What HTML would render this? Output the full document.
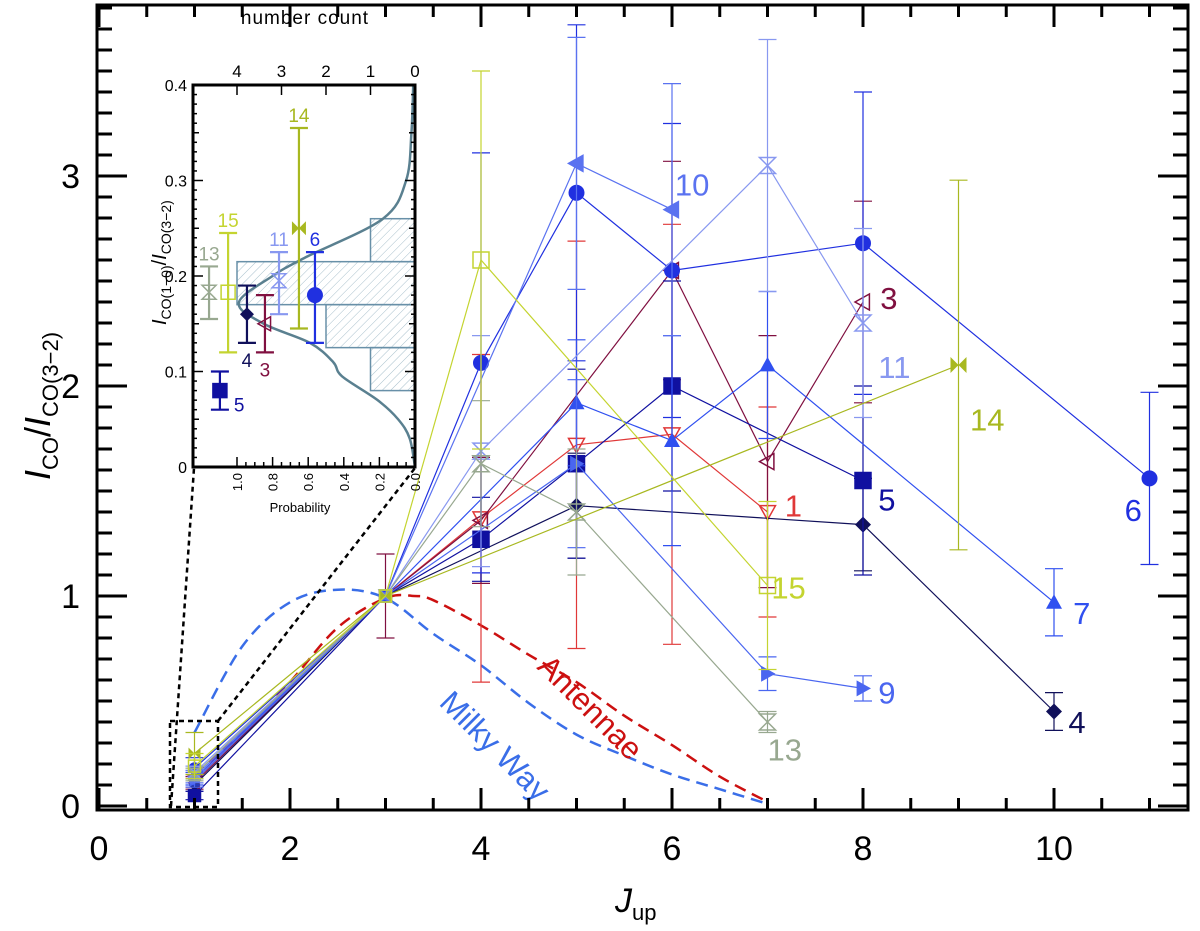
<!DOCTYPE html>
<html><head><meta charset="utf-8"><style>
html,body{margin:0;padding:0;background:#fff;}
svg text{font-family:"Liberation Sans",sans-serif;}
</style></head><body>
<svg id="chart" width="1200" height="926" viewBox="0 0 1200 926" xmlns="http://www.w3.org/2000/svg"></svg>
<script>
const jTicks=[0,2,4,6,8,10];
const yTicks=[0,1,2,3];
const seriesNames=["1","3","4","5","6","7","9","10","11","13","14","15"];
const seriesColors=["#e03838","#801040","#10105a","#1010a0","#2030e0","#3050f0","#4a66f0","#5a72f0","#8898f0","#98a890","#a8b820","#c4d430"];
const seriesMarkers=["tridown","trileft","diamond","square","circle","triup","triright","trileft","hourglass","hourglass","bowtie","osquare"];
const s1J=[1,3,4,5,6,7], s1V=[0.12,1,1.37,1.72,1.77,1.40], s1E=[0.03,0,0.78,0.97,1.0,0.5];
const s3J=[1,3,4,6,7,8], s3V=[0.11,1,1.36,2.55,1.64,2.40], s3E=[0.03,0.2,0.3,0.52,0.6,0.48];
const s4J=[1,3,5,8,10], s4V=[0.10,1,1.43,1.34,0.45], s4E=[0.03,0,0.25,0.22,0.09];
const s5J=[1,3,4,5,6,8], s5V=[0.05,1,1.27,1.63,2.00,1.55], s5E=[0.02,0,0.2,0.45,0.5,0.45];
const s6J=[1,3,4,5,6,8,11], s6V=[0.18,1,2.11,2.92,2.55,2.68,1.56], s6E=[0.05,0,1.0,0.8,0.7,0.72,0.41];
const s7J=[1,3,5,6,7,10], s7V=[0.13,1,1.92,1.74,2.10,0.97], s7E=[0.03,0,0.3,0.5,0.35,0.16];
const s9J=[1,3,5,7,8], s9V=[0.12,1,1.63,0.63,0.56], s9E=[0.03,0,0.4,0.08,0.06];
const s10J=[1,3,5,6], s10V=[0.14,1,3.06,2.84], s10E=[0.03,0,0.6,0.6];
const s11J=[1,3,4,7,8], s11V=[0.16,1,1.69,3.05,2.30], s11E=[0.03,0,0.55,0.6,0.45];
const s13J=[1,3,4,5,7], s13V=[0.15,1,1.63,1.40,0.40], s13E=[0.03,0,0.3,0.3,0.05];
const s14J=[1,3,9], s14V=[0.25,1,2.10], s14E=[0.1,0,0.88];
const s15J=[1,3,4,7], s15V=[0.19,1,2.60,1.05], s15E=[0.06,0,0.9,0.4];
const seriesJ=[s1J,s3J,s4J,s5J,s6J,s7J,s9J,s10J,s11J,s13J,s14J,s15J];
const seriesV=[s1V,s3V,s4V,s5V,s6V,s7V,s9V,s10V,s11V,s13V,s14V,s15V];
const seriesE=[s1E,s3E,s4E,s5E,s6E,s7E,s9E,s10E,s11E,s13E,s14E,s15E];
const labelJ=[7.18,8.18,10.15,8.16,10.74,10.2,8.16,6.03,8.16,7.0,9.12,7.04];
const labelV=[1.43,2.42,0.40,1.46,1.41,0.92,0.54,2.96,2.09,0.27,1.84,1.04];
const mwJ=[1,1.5,2,2.5,3,3.5,4,4.5,5,5.5,6,6.5,7];
const mwV=[0.35,0.76,0.97,1.03,0.99,0.82,0.67,0.49,0.34,0.24,0.15,0.08,0.01];
const anJ=[1,1.5,2,2.5,3,3.3,3.5,4,4.5,5,5.5,6,6.5,7];
const anV=[0.15,0.35,0.59,0.85,0.99,1.0,0.98,0.86,0.72,0.59,0.43,0.29,0.14,0.02];
const insetNames=["13","15","5","4","3","11","14","6"];
const insetSeriesIdx=[9,11,3,2,1,8,10,4];
const insetPos=[1.157,1.05,1.096,0.944,0.843,0.764,0.652,0.562];
const insetV=[0.183,0.183,0.08,0.16,0.15,0.195,0.25,0.18];
const insetLo=[0.155,0.12,0.06,0.13,0.12,0.16,0.145,0.13];
const insetHi=[0.21,0.245,0.10,0.19,0.18,0.225,0.355,0.225];
const histLo=[0.08,0.125,0.17,0.215];
const histHi=[0.125,0.17,0.215,0.26];
const histCount=[1,2,4,1];
const curveY=[0,0.03,0.05,0.07,0.095,0.11,0.13,0.15,0.172,0.2,0.22,0.26,0.3,0.35,0.4];
const curveP=[0,0.03,0.095,0.21,0.41,0.46,0.59,0.85,0.99,0.8,0.61,0.18,0.05,0.02,0.01];
const probTicks=[0,0.2,0.4,0.6,0.8,1.0];
const countTicks=[0,1,2,3,4];
const insetYTicks=[0,0.1,0.2,0.3,0.4];

const NS="http://www.w3.org/2000/svg";
const svg=document.getElementById('chart');
function el(tag,attrs,parent){const e=document.createElementNS(NS,tag);for(const k in attrs)e.setAttribute(k,attrs[k]);(parent||svg).appendChild(e);return e;}
const X=j=>99+95.5*j;
const Y=v=>806-210*v;
const PL=97,PR=1188,PT=5,PB=810;

function smooth(pts){let d="M"+pts[0][0]+","+pts[0][1];for(let i=0;i<pts.length-1;i++){const p0=pts[Math.max(0,i-1)],p1=pts[i],p2=pts[i+1],p3=pts[Math.min(pts.length-1,i+2)];const c1=[p1[0]+(p2[0]-p0[0])/6,p1[1]+(p2[1]-p0[1])/6],c2=[p2[0]-(p3[0]-p1[0])/6,p2[1]-(p3[1]-p1[1])/6];d+=" C"+c1[0]+","+c1[1]+" "+c2[0]+","+c2[1]+" "+p2[0]+","+p2[1];}return d;}

const mw=el('path',{d:smooth(mwJ.map((j,i)=>[X(j),Y(mwV[i])])),fill:"none",stroke:"#3a6ee8","stroke-width":2.5,"stroke-dasharray":"12,7"});


const an=el('path',{d:smooth(anJ.map((j,i)=>[X(j),Y(anV[i])])),fill:"none",stroke:"#cc1010","stroke-width":2.5,"stroke-dasharray":"12,7"});


const mwl=el('text',{x:0,y:0,fill:"#3a6ee8","font-size":31,transform:"translate(438,704) rotate(45)"});mwl.textContent="Milky Way";


const anl=el('text',{x:0,y:0,fill:"#cc1010","font-size":31,transform:"translate(536,668) rotate(45)"});anl.textContent="Antennae";



function marker(g,shape,cx,cy,c,r){
  const fillOpen=(shape==="tridown"||shape==="trileft"&&c==="#801040"||shape==="osquare"||shape==="hourglass");
  const f=fillOpen?"none":c;
  let m;
  if(shape==="circle")m=el('circle',{cx,cy,r:r,fill:c},g);
  else if(shape==="square"||shape==="osquare")m=el('rect',{x:cx-r,y:cy-r,width:2*r,height:2*r,fill:shape==="square"?c:"none",stroke:c,"stroke-width":1.5},g);
  else if(shape==="diamond")m=el('polygon',{points:`${cx},${cy-r} ${cx+r},${cy} ${cx},${cy+r} ${cx-r},${cy}`,fill:c},g);
  else if(shape==="triup")m=el('polygon',{points:`${cx},${cy-r} ${cx+r},${cy+r*0.8} ${cx-r},${cy+r*0.8}`,fill:c},g);
  else if(shape==="tridown")m=el('polygon',{points:`${cx-r},${cy-r*0.8} ${cx+r},${cy-r*0.8} ${cx},${cy+r}`,fill:"none",stroke:c,"stroke-width":1.5},g);
  else if(shape==="trileft")m=el('polygon',{points:`${cx-r},${cy} ${cx+r*0.8},${cy-r} ${cx+r*0.8},${cy+r}`,fill:f,stroke:c,"stroke-width":1.5},g);
  else if(shape==="triright")m=el('polygon',{points:`${cx+r},${cy} ${cx-r*0.8},${cy-r} ${cx-r*0.8},${cy+r}`,fill:c},g);
  else if(shape==="hourglass")m=el('polygon',{points:`${cx-r},${cy-r} ${cx+r},${cy-r} ${cx-r},${cy+r} ${cx+r},${cy+r}`,fill:"none",stroke:c,"stroke-width":1.5},g);
  else if(shape==="bowtie")m=el('polygon',{points:`${cx-r},${cy-r} ${cx+r},${cy+r} ${cx+r},${cy-r} ${cx-r},${cy+r}`,fill:c},g);
  return m;
}

seriesNames.forEach((nm,s)=>{
  const g=el('g',{});
  
  
  const c=seriesColors[s];
  const J=seriesJ[s],V=seriesV[s],E=seriesE[s];
  const line=el('polyline',{points:J.map((j,i)=>X(j)+","+Y(V[i])).join(" "),fill:"none",stroke:c,"stroke-width":1.2},g);
  
  
  J.forEach((j,i)=>{
    if(E[i]>0){
      const x=X(j),y1=Y(V[i]-E[i]),y2=Y(V[i]+E[i]);
      const eb=el('path',{d:`M${x},${y1}V${y2}M${x-9},${y1}H${x+9}M${x-9},${y2}H${x+9}`,stroke:c,"stroke-width":1.2,fill:"none"},g);
      
      
    }
    const m=marker(g,seriesMarkers[s],X(j),Y(V[i]),c,j===1||j===3?6:8);
    
    
  });
  const t=el('text',{x:X(labelJ[s]),y:Y(labelV[s])+11,fill:c,"font-size":31},g);
  t.textContent=nm;
  
  
});

const frame=el('rect',{x:PL,y:PT,width:PR-PL,height:PB-PT,fill:"none",stroke:"#000","stroke-width":3});


for(let k=0;k<=23;k++){const j=k*0.5;const x=X(j);if(x<PL||x>PR)continue;const major=(k%4===0);const len=major?22:12;
  el('line',{x1:x,y1:PB,x2:x,y2:PB-len,stroke:"#000","stroke-width":3});el('line',{x1:x,y1:PT,x2:x,y2:PT+len,stroke:"#000","stroke-width":3});}
for(let k=0;k<=38;k++){const v=k*0.1;const y=Y(v);if(y<PT)continue;const major=(k%10===0);const len=major?30:15;
  el('line',{x1:PL,y1:y,x2:PL+len,y2:y,stroke:"#000","stroke-width":3});el('line',{x1:PR,y1:y,x2:PR-len,y2:y,stroke:"#000","stroke-width":3});}
jTicks.forEach(j=>{const t=el('text',{x:X(j),y:860,"text-anchor":"middle","font-size":34});t.textContent=j;
  
  });
yTicks.forEach(v=>{const t=el('text',{x:80,y:Y(v)+12,"text-anchor":"end","font-size":34});t.textContent=v;
  
  });
const xt=el('text',{x:615,y:912,"font-size":34,"font-style":"italic"});xt.innerHTML='J<tspan font-size="22" font-style="normal" dy="8">up</tspan>';


const yt=el('text',{x:0,y:0,"font-size":36,transform:"translate(50,480) rotate(-90)","font-family":"Liberation Serif"});
yt.innerHTML='<tspan font-style="italic">I</tspan><tspan font-size="22" dy="8" font-family="Liberation Sans">CO</tspan><tspan dy="-8">/</tspan><tspan font-style="italic">I</tspan><tspan font-size="22" dy="8" font-family="Liberation Sans">CO(3−2)</tspan>';



const zb=el('rect',{x:170,y:721,width:48,height:86,fill:"none",stroke:"#000","stroke-width":2.5,"stroke-dasharray":"5,4"});


el('line',{x1:171,y1:806,x2:194,y2:468,stroke:"#000","stroke-width":2.5,"stroke-dasharray":"5,4"});
el('line',{x1:218,y1:721,x2:415,y2:468,stroke:"#000","stroke-width":2.5,"stroke-dasharray":"5,4"});

const IL=193,IR=415,IT=85,IB=467;
const IY=v=>IB-(IB-IT)*v/0.4;
const IPx=p=>IR-(IR-237)*p;
const ICx=c=>IR-44.5*c;
const inset=el('g',{});


el('rect',{x:IL,y:IT,width:IR-IL,height:IB-IT,fill:"#fff"},inset);
const defs=el('defs',{});
const pat=el('pattern',{id:"hatch",width:6,height:6,patternUnits:"userSpaceOnUse",patternTransform:"rotate(45)"},defs);
el('line',{x1:0,y1:0,x2:0,y2:6,stroke:"#a8c0cc","stroke-width":1},pat);
histLo.forEach((lo,i)=>{const r=el('rect',{x:ICx(histCount[i]),y:IY(histHi[i]),width:IR-ICx(histCount[i]),height:IY(lo)-IY(histHi[i]),fill:"url(#hatch)",stroke:"#6890a8","stroke-width":1.5},inset);
  
  });
const cv=el('path',{d:smooth(curveY.map((y,i)=>[IPx(curveP[i]),IY(y)])),fill:"none",stroke:"#5a8090","stroke-width":2.5},inset);


insetNames.forEach((nm,i)=>{const s=insetSeriesIdx[i],c=seriesColors[s];const x=IPx(insetPos[i]);
  const g=el('g',{},inset);
  
  
  const y1=IY(insetLo[i]),y2=IY(insetHi[i]);
  el('path',{d:`M${x},${y1}V${y2}M${x-9},${y1}H${x+9}M${x-9},${y2}H${x+9}`,stroke:c,"stroke-width":2.2,fill:"none"},g);
  marker(g,seriesMarkers[s],x,IY(insetV[i]),c,nm==="6"?8:7);
  const below=(nm==="5"||nm==="4"||nm==="3");
  const t=el('text',{x:nm==="5"?x+14:x,y:below?(nm==="5"?IY(insetLo[i])+2:y1+24):y2-6,fill:c,"font-size":19,"text-anchor":nm==="5"?"start":"middle"},g);
  t.textContent=nm;
});
el('rect',{x:IL,y:IT,width:IR-IL,height:IB-IT,fill:"none",stroke:"#000","stroke-width":3},inset);
for(let k=0;k<=40;k++){const y=IY(k*0.01);const len=k%10===0?10:(k%5===0?6:4);el('line',{x1:IL,y1:y,x2:IL+len,y2:y,stroke:"#000","stroke-width":1.5},inset);el('line',{x1:IR,y1:y,x2:IR-len,y2:y,stroke:"#000","stroke-width":1.5},inset);}
insetYTicks.forEach(v=>{const t=el('text',{x:187,y:IY(v)+6,"text-anchor":"end","font-size":16},inset);t.textContent=v;
  
  });
for(let k=0;k<=20;k++){const x=IPx(k*0.05);el('line',{x1:x,y1:IB,x2:x,y2:IB-(k%4===0?10:5),stroke:"#000","stroke-width":1.5},inset);}
probTicks.forEach(p=>{const t=el('text',{x:0,y:0,"font-size":13,"text-anchor":"end",transform:`translate(${IPx(p)+5},${IB+6}) rotate(-90)`},inset);t.textContent=p.toFixed(1);
  
  });
countTicks.forEach(c=>{const x=ICx(c);el('line',{x1:x,y1:IT,x2:x,y2:IT+10,stroke:"#000","stroke-width":1.5},inset);const t=el('text',{x:x,y:IT-8,"font-size":17,"text-anchor":"middle"},inset);t.textContent=c;
  
  });
const nc=el('text',{x:305,y:24,"font-size":19,"text-anchor":"middle","letter-spacing":"1"},inset);nc.textContent="number count";


const pr=el('text',{x:300,y:512,"font-size":13,"text-anchor":"middle"},inset);pr.textContent="Probability";


const iyt=el('text',{x:0,y:0,"font-size":20,transform:"translate(166,325) rotate(-90)","font-family":"Liberation Serif"},inset);
iyt.innerHTML='<tspan font-style="italic">I</tspan><tspan font-size="14" dy="5" font-family="Liberation Sans">CO(1−0)</tspan><tspan dy="-5">/</tspan><tspan font-style="italic">I</tspan><tspan font-size="14" dy="5" font-family="Liberation Sans">CO(3−2)</tspan>';


</script>
</body></html>
